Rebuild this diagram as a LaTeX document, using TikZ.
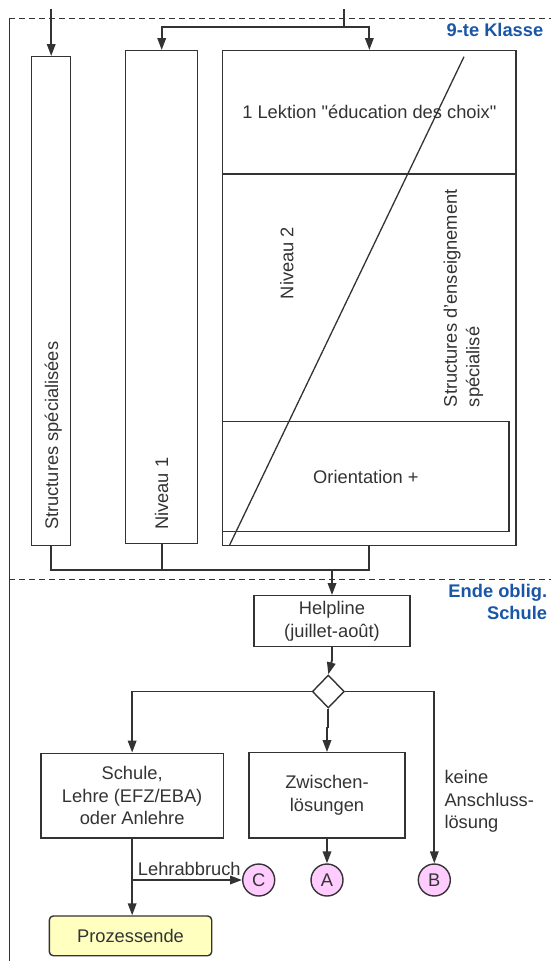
\documentclass[tikz,border=0pt]{standalone}
\usepackage{fontspec}
\setmainfont{Liberation Sans}
\usetikzlibrary{arrows.meta,shapes.geometric}
\definecolor{lc}{RGB}{51,51,51}
\definecolor{tc}{RGB}{51,51,51}
\definecolor{hb}{RGB}{26,86,166}
\definecolor{pinkc}{RGB}{255,204,255}
\definecolor{yelc}{RGB}{255,255,192}
\newcommand\strq{\XeTeXglyph\XeTeXcharglyph"22\relax}
\begin{document}
\begin{tikzpicture}[x=1pt,y=-1pt,
  font=\fontsize{18.3}{22.5}\selectfont,
  every node/.style={text=tc},
  box/.style={draw=lc, line width=1.4pt, inner sep=0pt},
  lbl/.style={inner sep=0pt},
  conn/.style={draw=lc, line width=1.9pt},
  arr/.style={conn, -{Triangle[length=12pt,width=8.5pt]}},
  circ/.style={circle, draw=lc, line width=1.4pt, fill=pinkc, minimum size=32pt, inner sep=0pt},
  sep/.style={draw=lc, line width=0.9pt, dash pattern=on 6pt off 4pt},
  zone/.style={lbl, text=hb, font=\fontsize{18.3}{22}\selectfont\bfseries},
]
\useasboundingbox (0,0) rectangle (551,961);

% separators
\coordinate (s0) at (9,18.3);
\coordinate (s1) at (551,18.3);
\coordinate (s2) at (9,579.3);
\coordinate (s3) at (551,579.3);
\coordinate (s4) at (9,961);
\draw[draw=lc, line width=1pt] (s0) -- (s4);
\draw[sep] (s0) -- (s1);
\draw[sep] (s2) -- (s3);
\node[zone, anchor=base east] (k9) at (543.5,36) {9-te Klasse};
\node[zone, align=right, anchor=east] (ende) at (547.3,601.5) {Ende oblig.\\Schule};

% upper boxes
\node[box, minimum width=39pt, minimum height=488.6pt] (ss) at (51.2,301) {};
\node[box, minimum width=72pt, minimum height=492.6pt] (n1) at (161.7,297) {};
\node[box, minimum width=293.3pt, minimum height=495pt] (big) at (369.35,298.2) {};
\coordinate (d1) at (222.7,174);
\coordinate (d2) at (516,174);
\draw[box] (d1) -- (d2);
\node[box, minimum width=286.3pt, minimum height=110pt] (ori) at (365.85,476.7) {Orientation +};
\node[lbl] (tlek) at (369.35,112.3) {1 Lektion \strq éducation des choix\strq};
\node[lbl, rotate=90, anchor=base west] (tss) at (58,530) {Structures spécialisées};
\node[lbl, rotate=90, anchor=base west] (tn1) at (168,530) {Niveau 1};
\node[lbl, rotate=90, anchor=base west] (tn2) at (293.3,299.3) {Niveau 2};
\node[lbl, rotate=90, anchor=north west, align=left] (tsp) at (443.3,407.3) {Structures d'enseignement\\spécialisé};
\coordinate (g1) at (229.3,545.7);
\coordinate (g2) at (464,56.7);
\draw[draw=lc, line width=1.3pt] (g1) -- (g2);

% top connectors
\coordinate (t1) at (51.2,9);
\coordinate (t2) at (344,9);
\coordinate (j2) at (344,27.3);
\draw[arr] (t1) -- (ss.north);
\draw[conn] (t2) -- (j2);
\draw[arr] (j2) -| (n1.north);
\draw[arr] (j2) -| (big.north);

% lower part
\node[box, align=center, minimum width=156pt, minimum height=51pt] (help) at (332,621.2) {Helpline\\(juillet-août)};
\coordinate (jb) at (332,570);
\draw[conn] (ss.south) |- (jb);
\draw[conn] (n1.south) -- (n1.south |- jb);
\draw[conn] (big.south) |- (jb);
\draw[arr] (jb) -- (help.north);

\node[diamond, aspect=1, draw=lc, line width=1.4pt, fill=white, minimum width=32pt, minimum height=33pt, inner sep=0pt] (dia) at (328.3,691.5) {};
\coordinate (hj) at (332,660);
\draw[conn] (help.south) -- (hj);
\draw[arr] (hj) -- (dia.north);

\node[box, align=center, minimum width=182.3pt, minimum height=84.7pt] (sch) at (132.15,795.65) {Schule,\\Lehre (EFZ/EBA)\\oder Anlehre};
\node[box, align=center, minimum width=156pt, minimum height=85.3pt] (zw) at (327,795.35) {Zwischen-\\lösungen};
\node[lbl, align=left, anchor=west] (keine) at (444.3,801.3) {keine\\Anschluss-\\lösung};

\node[circ] (C) at (258.7,880) {C};
\node[circ] (A) at (327,880) {A};
\node[circ] (B) at (434.3,880) {B};

\draw[arr] (dia.west) -| (sch.north);
\coordinate (dj) at (328.3,728);
\draw[conn] (dia.south) -- (dj);
\draw[arr] (dj) -| (zw.north);
\draw[arr] (dia.east) -| (B.north);
\draw[arr] (zw.south) -- (A.north);

\node[box, rounded corners=4pt, fill=yelc, minimum width=162.4pt, minimum height=39.7pt] (proz) at (130.5,935.85) {Prozessende};
\draw[arr] (sch.south) -- (sch.south |- proz.north);
\coordinate (br) at (132.15,880);
\draw[arr] (br) -- (C.west);
\node[lbl, anchor=base west] (labr) at (137.7,875) {Lehrabbruch};
\end{tikzpicture}
\end{document}
